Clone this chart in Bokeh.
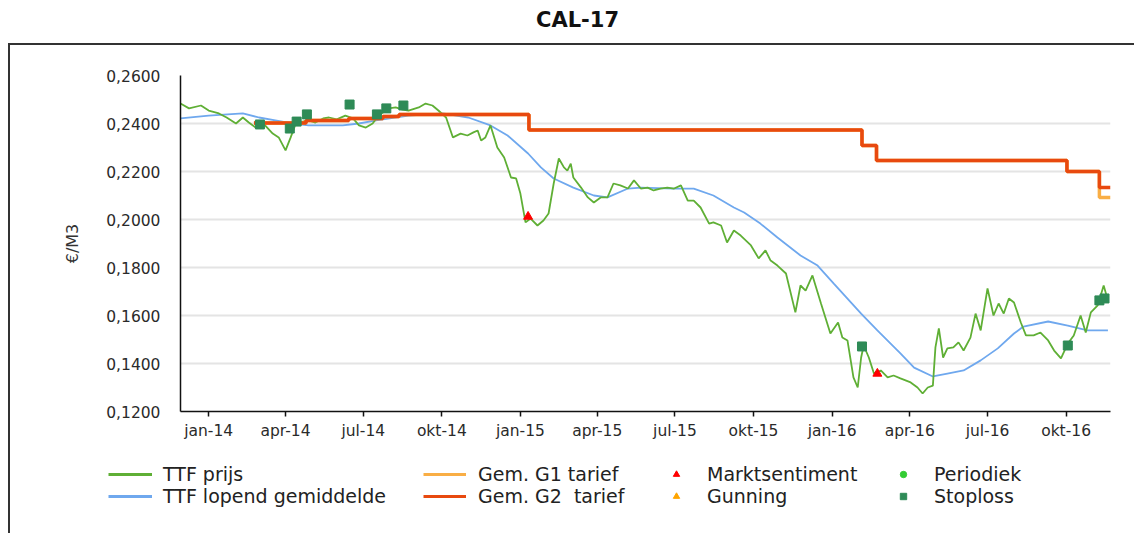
import pandas as pd
from bokeh.plotting import figure
from bokeh.layouts import column
from bokeh.models import (ColumnDataSource, FixedTicker, Legend, LegendItem, Range1d)
from bokeh.embed import file_html
from bokeh.resources import INLINE

# ---------------- data ----------------
ttf_dates = [
    "2013-11-29", "2013-12-09", "2013-12-23", "2014-01-01", "2014-01-13", "2014-01-22",
    "2014-02-02", "2014-02-10", "2014-02-17", "2014-02-25", "2014-03-05", "2014-03-17",
    "2014-03-24", "2014-04-01", "2014-04-07", "2014-04-13", "2014-04-21", "2014-04-28",
    "2014-05-06", "2014-05-15", "2014-05-22", "2014-05-31", "2014-06-10", "2014-06-19",
    "2014-06-26", "2014-07-04", "2014-07-12", "2014-07-19", "2014-07-31", "2014-08-08",
    "2014-08-16", "2014-08-23", "2014-09-04", "2014-09-12", "2014-09-20", "2014-09-27",
    "2014-10-06", "2014-10-14", "2014-10-23", "2014-10-31", "2014-11-07", "2014-11-12",
    "2014-11-16", "2014-11-21", "2014-11-27", "2014-12-05", "2014-12-13", "2014-12-21",
    "2014-12-27", "2015-01-01", "2015-01-07", "2015-01-13", "2015-01-21", "2015-01-28",
    "2015-02-03", "2015-02-09", "2015-02-15", "2015-02-21", "2015-02-25", "2015-03-01",
    "2015-03-04", "2015-03-13", "2015-03-21", "2015-03-28", "2015-04-05", "2015-04-13",
    "2015-04-20", "2015-04-28", "2015-05-07", "2015-05-14", "2015-05-22", "2015-05-30",
    "2015-06-06", "2015-06-14", "2015-06-22", "2015-06-30", "2015-07-08", "2015-07-16",
    "2015-07-23", "2015-07-31", "2015-08-10", "2015-08-15", "2015-08-24", "2015-08-31",
    "2015-09-08", "2015-09-16", "2015-09-28", "2015-10-07", "2015-10-15", "2015-10-21",
    "2015-10-29", "2015-11-08", "2015-11-19", "2015-11-25", "2015-12-01", "2015-12-09",
    "2015-12-19", "2015-12-30", "2016-01-08", "2016-01-13", "2016-01-19", "2016-01-26",
    "2016-01-31", "2016-02-04", "2016-02-07", "2016-02-13", "2016-02-19", "2016-02-27",
    "2016-03-06", "2016-03-13", "2016-03-21", "2016-04-02", "2016-04-10", "2016-04-16",
    "2016-04-22", "2016-04-28", "2016-05-01", "2016-05-05", "2016-05-10", "2016-05-15",
    "2016-05-22", "2016-05-28", "2016-06-03", "2016-06-11", "2016-06-17", "2016-06-23",
    "2016-07-01", "2016-07-08", "2016-07-14", "2016-07-20", "2016-07-26", "2016-08-01",
    "2016-08-09", "2016-08-15", "2016-08-24", "2016-09-01", "2016-09-10", "2016-09-17",
    "2016-09-25", "2016-10-03", "2016-10-10", "2016-10-18", "2016-10-24", "2016-10-30",
    "2016-11-07", "2016-11-14", "2016-11-19",
]
ttf_prices = [
    0.2483, 0.2463, 0.2475, 0.2454, 0.2442, 0.2425,
    0.2400, 0.2425, 0.2404, 0.2383, 0.2404, 0.2358,
    0.2342, 0.2288, 0.2342, 0.2400, 0.2408, 0.2413,
    0.2404, 0.2421, 0.2425, 0.2417, 0.2433, 0.2421,
    0.2392, 0.2383, 0.2400, 0.2433, 0.2463, 0.2467,
    0.2458, 0.2454, 0.2467, 0.2483, 0.2475, 0.2454,
    0.2425, 0.2342, 0.2358, 0.2350, 0.2363, 0.2371,
    0.2329, 0.2342, 0.2392, 0.2300, 0.2258, 0.2175,
    0.2171, 0.2108, 0.1988, 0.2004, 0.1975, 0.1996,
    0.2025, 0.2150, 0.2254, 0.2217, 0.2204, 0.2233,
    0.2175, 0.2133, 0.2092, 0.2071, 0.2092, 0.2092,
    0.2150, 0.2142, 0.2129, 0.2163, 0.2129, 0.2133,
    0.2121, 0.2129, 0.2133, 0.2129, 0.2142, 0.2079,
    0.2079, 0.2050, 0.1983, 0.1988, 0.1975, 0.1904,
    0.1954, 0.1933, 0.1892, 0.1838, 0.1871, 0.1829,
    0.1808, 0.1775, 0.1613, 0.1725, 0.1704, 0.1767,
    0.1650, 0.1525, 0.1571, 0.1508, 0.1496, 0.1342,
    0.1300, 0.1425, 0.1475, 0.1425, 0.1358, 0.1371,
    0.1342, 0.1350, 0.1338, 0.1321, 0.1300, 0.1275,
    0.1300, 0.1308, 0.1467, 0.1546, 0.1425, 0.1463,
    0.1467, 0.1488, 0.1454, 0.1508, 0.1608, 0.1538,
    0.1713, 0.1600, 0.1650, 0.1608, 0.1671, 0.1654,
    0.1571, 0.1517, 0.1517, 0.1529, 0.1496, 0.1454,
    0.1421, 0.1483, 0.1517, 0.1600, 0.1529, 0.1613,
    0.1642, 0.1725, 0.1663,
]

avg_dates = [
    "2013-11-29", "2014-01-01", "2014-02-10", "2014-03-01", "2014-03-20", "2014-04-09",
    "2014-04-28", "2014-06-07", "2014-06-26", "2014-07-16", "2014-08-23", "2014-10-02",
    "2014-11-01", "2014-11-27", "2014-12-17", "2015-01-10", "2015-01-25", "2015-02-09",
    "2015-03-04", "2015-03-28", "2015-04-13", "2015-05-07", "2015-05-22", "2015-06-30",
    "2015-07-23", "2015-08-15", "2015-09-08", "2015-09-20", "2015-10-09", "2015-10-29",
    "2015-11-25", "2015-12-15", "2016-01-03", "2016-02-04", "2016-02-23", "2016-03-21",
    "2016-04-06", "2016-04-28", "2016-05-15", "2016-06-03", "2016-06-23", "2016-07-13",
    "2016-08-01", "2016-08-12", "2016-09-10", "2016-10-03", "2016-10-26", "2016-11-19",
]
avg_prices = [
    0.2421, 0.2433, 0.2442, 0.2425, 0.2413, 0.2400,
    0.2392, 0.2392, 0.2400, 0.2413, 0.2433, 0.2442,
    0.2425, 0.2392, 0.2350, 0.2275, 0.2217, 0.2171,
    0.2133, 0.2100, 0.2092, 0.2129, 0.2133, 0.2129,
    0.2129, 0.2100, 0.2050, 0.2029, 0.1983, 0.1925,
    0.1850, 0.1808, 0.1733, 0.1608, 0.1538, 0.1442,
    0.1383, 0.1346, 0.1358, 0.1371, 0.1413, 0.1463,
    0.1525, 0.1554, 0.1575, 0.1558, 0.1538, 0.1538,
]

tariff_dates = ["2014-02-23", "2014-04-25", "2014-06-14", "2014-07-24", "2014-08-12",
                "2015-01-11", "2016-02-05", "2016-02-22", "2016-10-02", "2016-11-09",
                "2016-11-22"]
g1_tariff = [0.2402, 0.2413, 0.2421, 0.2429, 0.2437, 0.2373, 0.2308, 0.2246, 0.2200,
             0.2092, 0.2092]
g2_tariff = [0.2402, 0.2413, 0.2421, 0.2429, 0.2437, 0.2373, 0.2308, 0.2246, 0.2200,
             0.2133, 0.2133]

markt_dates = ["2015-01-10", "2016-02-23"]
markt_prices = [0.2012, 0.1358]

stoploss_dates = ["2014-03-02", "2014-04-06", "2014-04-14", "2014-04-26", "2014-06-15",
                  "2014-07-17", "2014-07-28", "2014-08-17", "2016-02-05", "2016-10-03",
                  "2016-11-09", "2016-11-15"]
stoploss_prices = [0.2396, 0.2379, 0.2408, 0.2438, 0.2479, 0.2438, 0.2463, 0.2475,
                   0.1471, 0.1475, 0.1663, 0.1671]

periodiek_dates = []
periodiek_prices = []
gunning_dates = []
gunning_prices = []

x_tick_dates = ["2014-01-01", "2014-04-01", "2014-07-01", "2014-10-01", "2015-01-01",
                "2015-04-01", "2015-07-01", "2015-10-01", "2016-01-01", "2016-04-01",
                "2016-07-01", "2016-10-01"]
x_tick_labels = ["jan-14", "apr-14", "jul-14", "okt-14", "jan-15", "apr-15", "jul-15",
                 "okt-15", "jan-16", "apr-16", "jul-16", "okt-16"]
y_ticks = [0.12, 0.14, 0.16, 0.18, 0.2, 0.22, 0.24, 0.26]
y_tick_labels = ["0,1200", "0,1400", "0,1600", "0,1800", "0,2000", "0,2200", "0,2400",
                 "0,2600"]

x_start = "2013-11-29"
x_end = "2016-11-22"

# ---------------- styles ----------------
FONT = "DejaVu Sans"
C_TTF = "#5FAF35"
C_AVG = "#6FA8EE"
C_G1 = "#F9AE45"
C_G2 = "#E8490F"
C_MARKT = "#FF0000"
C_GUN = "#FFA500"
C_PER = "#33CC33"
C_STOP = "#2E8B57"
NAN = float("nan")

# ---------------- title figure ----------------
t_fig = figure(width=1120, height=43, output_backend="svg", toolbar_location=None,
               x_axis_location=None, y_axis_location=None,
               min_border_left=34, min_border_right=0, min_border_top=5,
               min_border_bottom=0, title="CAL-17")
t_fig.outline_line_color = None
t_fig.grid.visible = False
t_fig.frame_align = False
t_fig.title.align = "center"
t_fig.title.text_font = FONT
t_fig.title.text_font_size = "21px"
t_fig.title.text_font_style = "bold"
t_fig.title.text_color = "#111111"

# ---------------- main figure ----------------
p = figure(width=1124, height=400, x_axis_type="datetime",
           x_range=Range1d(pd.Timestamp(x_start), pd.Timestamp(x_end)),
           y_range=Range1d(0.12, 0.26),
           output_backend="svg", toolbar_location=None,
           min_border_left=170, min_border_right=24,
           min_border_top=30, min_border_bottom=34)
p.outline_line_color = None
p.frame_align = False


def dt(lst):
    return pd.to_datetime(pd.Series(lst, dtype="object"))


src_ttf = ColumnDataSource(dict(x=dt(ttf_dates), y=ttf_prices))
src_avg = ColumnDataSource(dict(x=dt(avg_dates), y=avg_prices))
src_tar = ColumnDataSource(dict(x=dt(tariff_dates), g1=g1_tariff, g2=g2_tariff))
src_markt = ColumnDataSource(dict(x=dt(markt_dates), y=markt_prices))
src_stop = ColumnDataSource(dict(x=dt(stoploss_dates), y=stoploss_prices))
src_per = ColumnDataSource(dict(x=dt(periodiek_dates), y=periodiek_prices))
src_gun = ColumnDataSource(dict(x=dt(gunning_dates), y=gunning_prices))

p.line("x", "y", source=src_avg, line_color=C_AVG, line_width=1.8)
p.line("x", "y", source=src_ttf, line_color=C_TTF, line_width=1.8)
p.step("x", "g1", source=src_tar, mode="after", line_color=C_G1, line_width=3.5)
p.step("x", "g2", source=src_tar, mode="after", line_color=C_G2, line_width=3.5)
p.scatter("x", "y", source=src_stop, marker="square", size=9,
          fill_color=C_STOP, line_color=C_STOP)
p.scatter("x", "y", source=src_markt, marker="triangle", size=9,
          fill_color=C_MARKT, line_color=C_MARKT)
p.scatter("x", "y", source=src_per, marker="circle", size=7,
          fill_color=C_PER, line_color=C_PER)
p.scatter("x", "y", source=src_gun, marker="triangle", size=5,
          fill_color=C_GUN, line_color=C_GUN)

tick_ms = [int(pd.Timestamp(d).value // 10**6) for d in x_tick_dates]
p.xaxis.ticker = FixedTicker(ticks=tick_ms)
p.xaxis.major_label_overrides = {t: l for t, l in zip(tick_ms, x_tick_labels)}
p.yaxis.ticker = FixedTicker(ticks=y_ticks)
p.yaxis.major_label_overrides = {t: l for t, l in zip(y_ticks, y_tick_labels)}

for ax in (p.xaxis, p.yaxis):
    ax.axis_line_color = "#111111"
    ax.axis_line_width = 1.5
    ax.major_label_text_font = FONT
    ax.major_label_text_font_size = "15.5px"
    ax.major_label_text_color = "#2a2a2a"
    ax.minor_tick_line_color = None

p.xaxis.major_tick_line_color = "#111111"
p.xaxis.major_tick_line_width = 1.5
p.xaxis.major_tick_in = 0
p.xaxis.major_tick_out = 5
p.xaxis.major_label_standoff = 5

p.yaxis.major_tick_line_color = None
p.yaxis.major_tick_in = 0
p.yaxis.major_tick_out = 0
p.yaxis.major_label_standoff = 20
p.yaxis.axis_label = "€/M3"
p.yaxis.axis_label_text_font = FONT
p.yaxis.axis_label_text_font_size = "16px"
p.yaxis.axis_label_text_font_style = "normal"
p.yaxis.axis_label_text_color = "#333333"
p.yaxis.axis_label_standoff = 21

p.xgrid.grid_line_color = None
p.ygrid.grid_line_color = "#E4E4E4"
p.ygrid.grid_line_width = 2

# ---------------- legend figure ----------------
lg = figure(width=1124, height=88, output_backend="svg", toolbar_location=None,
            x_range=Range1d(0, 1), y_range=Range1d(0, 1),
            x_axis_location=None, y_axis_location=None, min_border=0)
lg.outline_line_color = None
lg.grid.visible = False
lg.frame_align = False

# legend proxies (one NaN point each, so nothing is drawn in the frame)
l_ttf = lg.line(x=[NAN], y=[NAN], line_color=C_TTF, line_width=3)
l_avg = lg.line(x=[NAN], y=[NAN], line_color=C_AVG, line_width=3)
l_g1 = lg.line(x=[NAN], y=[NAN], line_color=C_G1, line_width=3)
l_g2 = lg.line(x=[NAN], y=[NAN], line_color=C_G2, line_width=3)
l_markt = lg.scatter(x=[NAN], y=[NAN], marker="triangle", fill_color=C_MARKT, line_color=C_MARKT)
l_gun = lg.scatter(x=[NAN], y=[NAN], marker="triangle", fill_color=C_GUN, line_color=C_GUN)
l_per = lg.scatter(x=[NAN], y=[NAN], marker="circle", fill_color=C_PER, line_color=C_PER)
l_stop = lg.scatter(x=[NAN], y=[NAN], marker="square", fill_color=C_STOP, line_color=C_STOP)


def make_legend(items, loc, glyph_width, standoff):
    return Legend(items=items, location=loc, orientation="vertical",
                  padding=0, margin=0, spacing=0,
                  border_line_alpha=0, background_fill_alpha=0,
                  label_text_font=FONT, label_text_font_size="19px",
                  label_text_color="#222222",
                  glyph_height=22, label_height=22, glyph_width=glyph_width,
                  label_standoff=standoff)


lg.add_layout(make_legend([LegendItem(label="TTF prijs", renderers=[l_ttf]),
                           LegendItem(label="TTF lopend gemiddelde", renderers=[l_avg])],
                          (98, 26), 44, 11))
lg.add_layout(make_legend([LegendItem(label="Gem. G1 tarief", renderers=[l_g1]),
                           LegendItem(label="Gem. G2  tarief", renderers=[l_g2])],
                          (413, 26), 43, 12))
lg.add_layout(make_legend([LegendItem(label="Marktsentiment", renderers=[l_markt]),
                           LegendItem(label="Gunning", renderers=[l_gun])],
                          (658, 26), 16, 23))
lg.add_layout(make_legend([LegendItem(label="Periodiek", renderers=[l_per]),
                           LegendItem(label="Stoploss", renderers=[l_stop])],
                          (885, 26), 16, 23))

body = column(p, lg, margin=(0, 0, 0, 8),
              styles={"border-top": "2px solid #333333",
                      "border-left": "2px solid #333333"})
layout = column(t_fig, body)

open("out.html", "w").write(file_html(layout, INLINE))
